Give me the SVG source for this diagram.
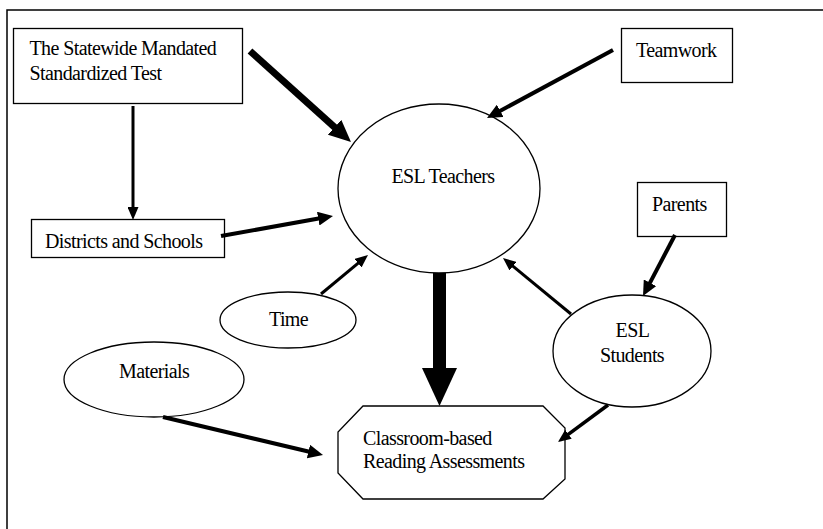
<svg xmlns="http://www.w3.org/2000/svg" width="823" height="529" viewBox="0 0 823 529">
<style>
.shape{fill:#fff;stroke:#000;stroke-width:1.3}
.t{font-family:"Liberation Serif","Times New Roman",serif;font-size:20px;letter-spacing:-0.6px;fill:#000}
.c{text-anchor:middle}
.ln{stroke:#000;fill:none;stroke-linecap:butt}
</style>
<defs>
<marker id="hs" markerUnits="userSpaceOnUse" markerWidth="13" markerHeight="11" viewBox="0 0 13 11" refX="6.5" refY="5.5" orient="auto"><path d="M0,0 L13,5.5 L0,11 z" fill="#000"/></marker>
<marker id="hm" markerUnits="userSpaceOnUse" markerWidth="15" markerHeight="14" viewBox="0 0 15 14" refX="7.5" refY="7" orient="auto"><path d="M0,0 L15,7 L0,14 z" fill="#000"/></marker>
<marker id="hl" markerUnits="userSpaceOnUse" markerWidth="22" markerHeight="20" viewBox="0 0 22 20" refX="11" refY="10" orient="auto"><path d="M0,0 L22,10 L0,20 z" fill="#000"/></marker>
<marker id="hx" markerUnits="userSpaceOnUse" markerWidth="38" markerHeight="35" viewBox="0 0 38 35" refX="19" refY="17.5" orient="auto"><path d="M0,0 L38,17.5 L0,35 z" fill="#000"/></marker>
</defs>
<rect x="0" y="0" width="823" height="529" fill="#fff"/>
<path d="M7,540 L7,10 L830,10" fill="none" stroke="#000" stroke-width="1.5"/>

<g id="n-test"><rect class="shape" x="13.5" y="28.5" width="229" height="75"/>
<text class="t" x="29.5" y="55">The Statewide Mandated</text>
<text class="t" x="29.5" y="80">Standardized Test</text></g>

<g id="n-districts"><rect class="shape" x="31.5" y="219.5" width="193" height="38"/>
<text class="t" x="45" y="248">Districts and Schools</text></g>

<g id="n-teachers"><ellipse class="shape" cx="439" cy="188.5" rx="101" ry="84.5"/>
<text class="t c" x="443" y="183">ESL Teachers</text></g>

<g id="n-teamwork"><rect class="shape" x="621.5" y="28.5" width="111" height="54"/>
<text class="t" x="636" y="56.5">Teamwork</text></g>

<g id="n-parents"><rect class="shape" x="637.5" y="182.5" width="89" height="54"/>
<text class="t" x="652" y="211">Parents</text></g>

<g id="n-students"><ellipse class="shape" cx="632" cy="351" rx="79" ry="56"/>
<text class="t c" x="632.5" y="337">ESL</text>
<text class="t c" x="632" y="362">Students</text></g>

<g id="n-time"><ellipse class="shape" cx="288" cy="320" rx="68" ry="28"/>
<text class="t" x="269" y="326">Time</text></g>

<g id="n-materials"><ellipse class="shape" cx="154" cy="379.5" rx="90" ry="37.5"/>
<text class="t" x="119" y="378">Materials</text></g>

<g id="n-classroom"><polygon class="shape" points="363,406 543,406 565,428 565,479 543,499 363,499 338,473 338,432"/>
<text class="t" x="363" y="445">Classroom-based</text>
<text class="t" x="363" y="468">Reading Assessments</text></g>

<g id="connectors">
<line class="ln" x1="250" y1="51" x2="342.8" y2="134.6" stroke-width="7" marker-end="url(#hl)"/>
<line class="ln" x1="133" y1="106" x2="133" y2="213.5" stroke-width="3" marker-end="url(#hs)"/>
<line class="ln" x1="221" y1="236" x2="325.6" y2="217.3" stroke-width="4" marker-end="url(#hm)"/>
<line class="ln" x1="613" y1="50" x2="493.6" y2="114.4" stroke-width="4" marker-end="url(#hm)"/>
<line class="ln" x1="321" y1="294" x2="363" y2="259.1" stroke-width="3" marker-end="url(#hs)"/>
<line class="ln" x1="571" y1="314" x2="508" y2="262.1" stroke-width="3" marker-end="url(#hs)"/>
<line class="ln" x1="675" y1="235" x2="646.5" y2="289.4" stroke-width="4" marker-end="url(#hm)"/>
<line class="ln" x1="608" y1="405" x2="563.2" y2="438.1" stroke-width="3.5" marker-end="url(#hs)"/>
<line class="ln" x1="163" y1="417" x2="315.7" y2="453.3" stroke-width="4" marker-end="url(#hm)"/>
<line class="ln" x1="439.5" y1="273" x2="439.5" y2="387" stroke-width="13" marker-end="url(#hx)"/>
</g>
</svg>
